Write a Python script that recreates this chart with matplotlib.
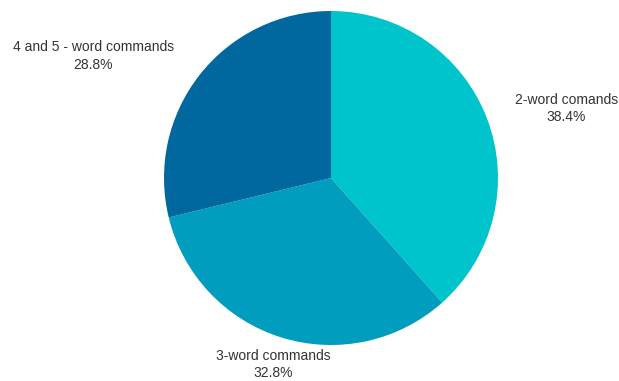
import numpy as np
import matplotlib
matplotlib.use("Agg")
import matplotlib.pyplot as plt

labels = ["2-word comands", "3-word commands", "4 and 5 - word commands"]
values = [38.4, 32.8, 28.8]
colors = ["#00c4cc", "#009dbf", "#00679f"]
# label distance from center, in pie radii
label_dist = [1.47, 1.17, 1.6]
label_angle_shift = [-4.4, 0.0, 11.0]

plt.rcParams["font.family"] = ["Liberation Sans", "DejaVu Sans"]

fig = plt.figure(figsize=(6.19, 3.81), dpi=100)
W, H = 619, 381
cx, cy, r = 331, 178, 167
ax = fig.add_axes([(cx - r) / W, (H - cy - r) / H, 2 * r / W, 2 * r / H])

wedges, _ = ax.pie(values, colors=colors, startangle=90, counterclock=False,
                   radius=1.0, wedgeprops=dict(linewidth=0))
ax.set_xlim(-1, 1)
ax.set_ylim(-1, 1)
ax.set_aspect("equal")
ax.axis("off")

for w, lab, v, d, s in zip(wedges, labels, values, label_dist, label_angle_shift):
    mid = np.deg2rad((w.theta1 + w.theta2) / 2 + s)
    ax.text(d * np.cos(mid), d * np.sin(mid), "%s\n%.1f%%" % (lab, v),
            ha="center", va="center", fontsize=10, color="#333333",
            linespacing=1.3, clip_on=False)

fig.savefig("out.png", dpi=100)
